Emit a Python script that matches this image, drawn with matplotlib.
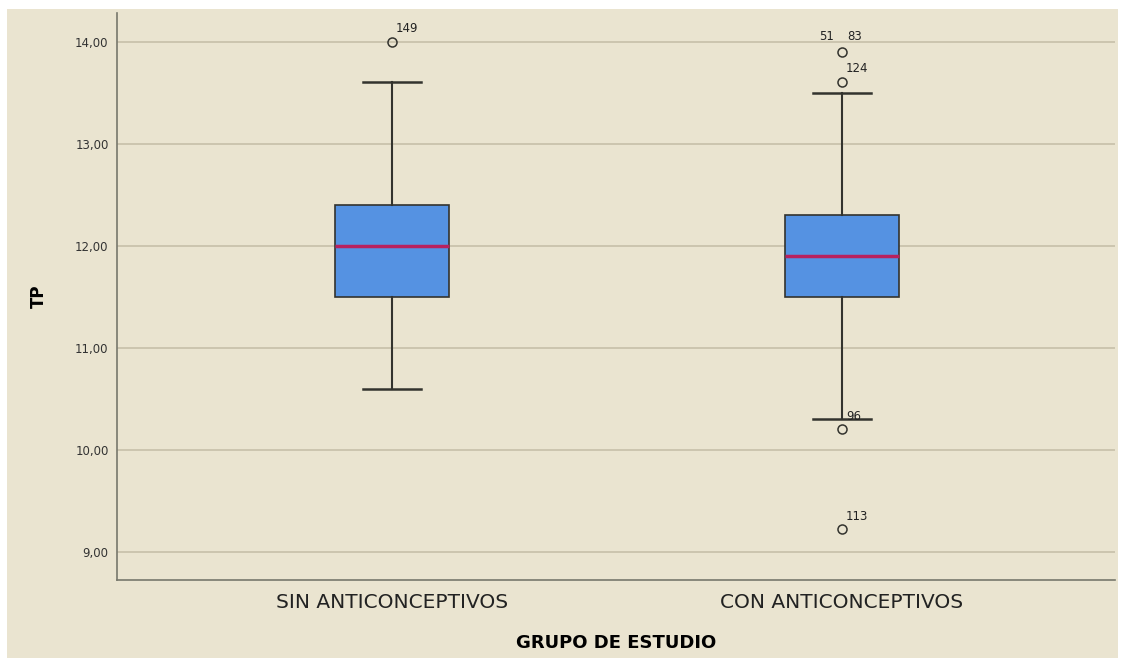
import matplotlib.pyplot as plt
from matplotlib.patches import Rectangle

# --- data ---
groups = ['SIN ANTICONCEPTIVOS', 'CON ANTICONCEPTIVOS']
q1 = [11.5, 11.5]
medians = [12.0, 11.9]
q3 = [12.4, 12.3]
whisker_low = [10.6, 10.3]
whisker_high = [13.6, 13.5]
outliers = [[14.0], [13.9, 13.6, 10.2, 9.22]]
outlier_ids = [['149'], ['51  83', '124', '96', '113']]
yticks = [9, 10, 11, 12, 13, 14]

bg = '#EAE4D0'
box_color = '#5592E2'
median_color = '#B8205E'
edge = '#33332E'

fig = plt.figure(figsize=(11.29, 6.62), dpi=100)
fig.patch.set_facecolor('white')
fig.patches.append(Rectangle((7 / 1129, 4 / 662), 1111 / 1129, 649 / 662,
                             transform=fig.transFigure, facecolor=bg,
                             edgecolor='none', zorder=-10))

ax = fig.add_axes([117 / 1129, 82 / 662, 998 / 1129, 567 / 662])
ax.set_facecolor(bg)

stats = []
for i, g in enumerate(groups):
    stats.append({'label': g, 'q1': q1[i], 'med': medians[i], 'q3': q3[i],
                  'whislo': whisker_low[i], 'whishi': whisker_high[i],
                  'fliers': outliers[i]})

positions = list(range(len(groups)))
ax.bxp(stats, positions=positions, widths=0.253, capwidths=0.13,
       patch_artist=True, showfliers=True,
       boxprops=dict(facecolor=box_color, edgecolor=edge, linewidth=1.2),
       medianprops=dict(color=median_color, linewidth=2.5),
       whiskerprops=dict(color=edge, linewidth=1.5),
       capprops=dict(color=edge, linewidth=1.8),
       flierprops=dict(marker='o', markersize=6.5, markerfacecolor='none',
                       markeredgecolor=edge, markeredgewidth=1.1))

# case labels next to outliers
for pos, vals, ids in zip(positions, outliers, outlier_ids):
    for v, lab in zip(vals, ids):
        if '  ' in lab:
            left, right = lab.split('  ')
            ax.annotate(left, (pos, v), xytext=(-6, 6), textcoords='offset points',
                        ha='right', va='bottom', fontsize=8.5, color='#222222')
            ax.annotate(right, (pos, v), xytext=(4, 6), textcoords='offset points',
                        ha='left', va='bottom', fontsize=8.5, color='#222222')
        else:
            ax.annotate(lab, (pos, v), xytext=(3, 5), textcoords='offset points',
                        ha='left', va='bottom', fontsize=8.5, color='#222222')

ax.set_xlim(-0.611, 1.607)
ax.set_ylim(8.725, 14.28)
ax.set_yticks(yticks)
ax.set_yticklabels([f'{t:.2f}'.replace('.', ',') for t in yticks],
                   fontsize=8.5, color='#333333')
ax.set_xticks(positions)
ax.set_xticklabels(groups, fontsize=14.5, color='#222222')
ax.tick_params(axis='both', length=0, pad=6)
ax.tick_params(axis='x', pad=9)

ax.grid(axis='y', color='#C9C2AC', linewidth=1.3)
ax.set_axisbelow(True)
for side in ['top', 'right']:
    ax.spines[side].set_visible(False)
for side in ['left', 'bottom']:
    ax.spines[side].set_color('#77776c')
    ax.spines[side].set_linewidth(1.2)

ax.set_xlabel('GRUPO DE ESTUDIO', fontsize=13, fontweight='bold', labelpad=16)
ax.set_ylabel('TP', fontsize=12, fontweight='bold', labelpad=20)

fig.savefig('out.png', dpi=100, facecolor=fig.get_facecolor())
